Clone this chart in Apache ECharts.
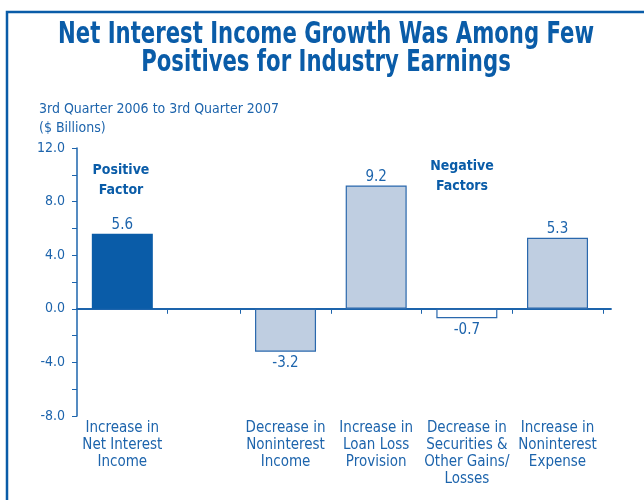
<!DOCTYPE html>
<html>
<head>
<meta charset="utf-8">
<script src="https://cdn.jsdelivr.net/npm/echarts@6/dist/echarts.min.js"></script>
<style>
  html, body { margin: 0; padding: 0; background: #fff; }
  #chart { width: 644px; height: 500px; }
</style>
</head>
<body>
<div id="chart"></div>
<script>
// values, $ billions
const categories = [
  'Increase in\nNet Interest\nIncome',
  '',
  'Decrease in\nNoninterest\nIncome',
  'Increase in\nLoan Loss\nProvision',
  'Decrease in\nSecurities &\nOther Gains/\nLosses',
  'Increase in\nNoninterest\nExpense'
]
const values = [5.6, null, -3.2, 9.2, -0.7, 5.3]
const yMin = -8
const yMax = 12
const yStep = 4

// relative width of each slot on the x axis (the empty gap slot is narrower)
const slotWeights = [5, 4, 5, 5, 5, 5]

const FONT = '"DejaVu Sans Condensed", "Liberation Sans Narrow", sans-serif'
const BLUE = '#0a5ca8'
const TEXT = '#1d64ac'
const LIGHT = '#bfcee1'

// fill per bar: first one is the positive factor
const fills = [BLUE, LIGHT, LIGHT, LIGHT, '#ffffff', LIGHT]

const titleText = 'Net Interest Income Growth Was Among Few\nPositives for Industry Earnings'
const titleFont = 'bold 30px ' + FONT

// slot edges and centres in x-axis units
var edges = [0]
slotWeights.forEach(function (w, i) { edges.push(edges[i] + w) })
var centers = slotWeights.map(function (w, i) { return edges[i] + w / 2 })
var xEnd = edges[edges.length - 1]

// squeeze the title to the condensed width of the original
function fitScale (line, font, target) {
  var ctx = document.createElement('canvas').getContext('2d')
  ctx.font = font
  return target / ctx.measureText(line).width
}
var titleScale = fitScale(titleText.split('\n')[0], titleFont, 536)

var myChart = echarts.init(document.getElementById('chart'))
myChart.setOption({
  animation: false,
  title: {
    text: '3rd Quarter 2006 to 3rd Quarter 2007\n($ Billions)',
    left: 34,
    top: 95,
    textStyle: {
      color: TEXT,
      fontFamily: FONT,
      fontSize: 14,
      fontWeight: 'normal',
      lineHeight: 19
    }
  },
  graphic: [
    {
      type: 'rect',
      shape: { x: 7, y: 12, width: 700, height: 600 },
      style: { fill: 'none', stroke: BLUE, lineWidth: 2.5 }
    },
    {
      type: 'text',
      x: 326,
      y: 49,
      scaleX: titleScale,
      style: {
        text: titleText,
        fill: BLUE,
        font: titleFont,
        textAlign: 'center',
        textVerticalAlign: 'middle',
        lineHeight: 28
      }
    },
    {
      type: 'text',
      x: 121,
      y: 180,
      style: {
        text: 'Positive\nFactor',
        fill: BLUE,
        font: 'bold 14px ' + FONT,
        textAlign: 'center',
        textVerticalAlign: 'middle',
        lineHeight: 20
      }
    },
    {
      type: 'text',
      x: 462,
      y: 176,
      style: {
        text: 'Negative\nFactors',
        fill: BLUE,
        font: 'bold 14px ' + FONT,
        textAlign: 'center',
        textVerticalAlign: 'middle',
        lineHeight: 20
      }
    }
  ],
  grid: {
    left: 77,
    right: 33,
    top: 148,
    bottom: 84
  },
  xAxis: [
    {
      // category names along the bottom
      type: 'value',
      min: 0,
      max: xEnd + 0.45,
      position: 'bottom',
      splitLine: { show: false },
      axisLine: { show: false, onZero: false },
      axisTick: { show: false },
      axisLabel: {
        customValues: centers.filter(function (c, i) { return categories[i] !== '' }),
        formatter: function (v) {
          var i = centers.findIndex(function (c) { return Math.abs(c - v) < 1e-6 })
          return i < 0 ? '' : categories[i]
        },
        margin: 4,
        color: TEXT,
        fontFamily: FONT,
        fontSize: 15,
        lineHeight: 17,
        verticalAlign: 'top'
      }
    },
    {
      // zero line with ticks between slots
      type: 'value',
      min: 0,
      max: xEnd + 0.45,
      position: 'bottom',
      splitLine: { show: false },
      axisLine: { show: true, onZero: true, lineStyle: { color: TEXT, width: 1.8 } },
      axisTick: {
        show: true,
        customValues: edges.slice(1),
        length: 5,
        lineStyle: { color: TEXT, width: 1 }
      },
      axisLabel: { show: false }
    }
  ],
  yAxis: {
    type: 'value',
    min: yMin,
    max: yMax,
    interval: yStep,
    axisLine: { show: true, lineStyle: { color: TEXT, width: 1.5 } },
    axisTick: { show: true, length: 5, lineStyle: { color: TEXT } },
    minorTick: { show: true, splitNumber: 2, length: 5, lineStyle: { color: TEXT } },
    splitLine: { show: false },
    axisLabel: {
      margin: 12,
      color: TEXT,
      fontFamily: FONT,
      fontSize: 14,
      formatter: function (v) { return v.toFixed(1) }
    }
  },
  series: [
    {
      type: 'bar',
      xAxisIndex: 0,
      barWidth: 61,
      data: values.map(function (v, i) {
        if (v === null) return null
        return {
          value: [centers[i], v],
          itemStyle: {
            color: fills[i],
            borderColor: i === 0 ? BLUE : '#2a68ad',
            borderWidth: i === 0 ? 0 : 1.2
          },
          label: {
            position: v >= 0 ? 'top' : 'bottom',
            distance: v >= 0 ? 1 : 4
          }
        }
      }).filter(function (d) { return d !== null }),
      label: {
        show: true,
        color: TEXT,
        fontFamily: FONT,
        fontSize: 15,
        formatter: function (p) { return p.value[1].toFixed(1) }
      }
    }
  ]
})
</script>
</body>
</html>
